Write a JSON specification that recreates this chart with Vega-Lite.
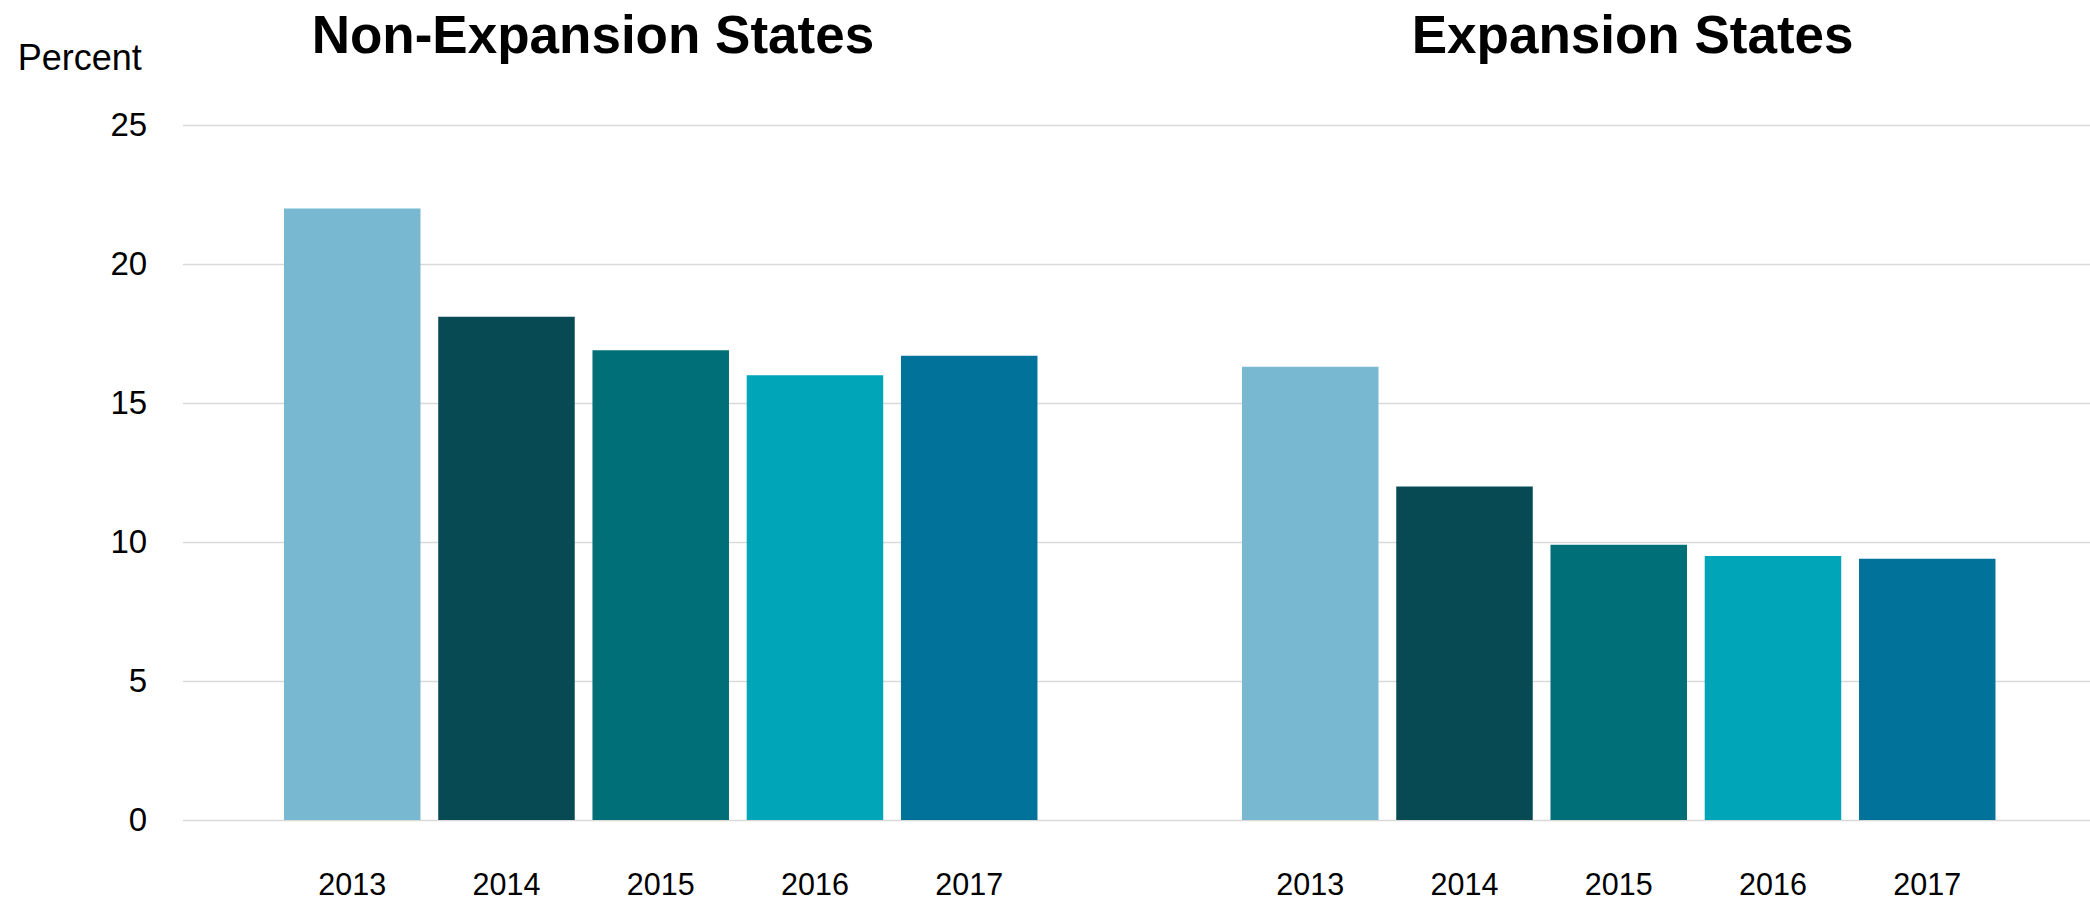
{
  "$schema": "https://vega.github.io/schema/vega-lite/v6.json",
  "autosize": {"type": "none"},
  "padding": {"left": 182.4, "top": 125, "right": 0, "bottom": 82},
  "width": 1907.6,
  "height": 695,
  "background": "white",
  "config": {
    "view": {"stroke": null},
    "font": "Liberation Sans",
    "axis": {"labelFont": "Liberation Sans", "titleFont": "Liberation Sans", "labelColor": "#000000", "titleColor": "#000000"}
  },
  "data": {
    "values": [
      {"group": "Non-Expansion States", "year": "2013", "value": 22.0},
      {"group": "Non-Expansion States", "year": "2014", "value": 18.1},
      {"group": "Non-Expansion States", "year": "2015", "value": 16.9},
      {"group": "Non-Expansion States", "year": "2016", "value": 16.0},
      {"group": "Non-Expansion States", "year": "2017", "value": 16.7},
      {"group": "Expansion States", "year": "2013", "value": 16.3},
      {"group": "Expansion States", "year": "2014", "value": 12.0},
      {"group": "Expansion States", "year": "2015", "value": 9.9},
      {"group": "Expansion States", "year": "2016", "value": 9.5},
      {"group": "Expansion States", "year": "2017", "value": 9.4}
    ]
  },
  "encoding": {
    "x": {
      "field": "group",
      "type": "nominal",
      "scale": {"domain": ["Non-Expansion States", "Expansion States"], "paddingInner": 0.0088, "paddingOuter": 0},
      "axis": {
        "orient": "top",
        "title": null,
        "domain": false,
        "ticks": false,
        "tickSize": 0,
        "grid": false,
        "labelAngle": 0,
        "labelFontSize": 53,
        "labelFontWeight": "bold",
        "labelBaseline": "alphabetic",
        "labelAlign": "left",
        "labelPadding": 72.7,
        "labelLimit": 2000,
        "labelOverlap": false,
        "labelBound": false,
        "labelFlush": false,
        "labelOffset": {"condition": {"test": "datum.value == 'Non-Expansion States'", "value": -345.5}, "value": -203.5}
      }
    },
    "xOffset": {
      "field": "year",
      "type": "nominal",
      "scale": {"paddingInner": 0.115, "paddingOuter": 0.6357, "align": 0.518}
    }
  },
  "layer": [
    {
      "mark": {"type": "bar"},
      "encoding": {
        "y": {
          "field": "value",
          "type": "quantitative",
          "scale": {"domain": [0, 25], "nice": false, "zero": true},
          "axis": {
            "title": "Percent",
            "values": [0, 5, 10, 15, 20, 25],
            "grid": true,
            "gridColor": "#d9d9d9",
            "gridWidth": 1.6,
            "domain": false,
            "ticks": false,
            "tickSize": 0,
            "labelFontSize": 33,
            "labelPadding": 35.7,
            "labelBaseline": "middle",
            "titleFontSize": 36,
            "titleFontWeight": "normal",
            "titleAngle": 0,
            "titleAlign": "left",
            "titleBaseline": "alphabetic",
            "titleX": -165.1,
            "titleY": -55.7
          }
        },
        "color": {
          "field": "year",
          "type": "nominal",
          "scale": {"domain": ["2013", "2014", "2015", "2016", "2017"], "range": ["#78B8D0", "#074A53", "#016F77", "#00A5B8", "#017299"]},
          "legend": null
        }
      }
    },
    {
      "mark": {"type": "text", "dy": 66, "baseline": "middle", "align": "center", "fontSize": 30.5, "font": "Liberation Sans", "color": "#000000"},
      "encoding": {
        "y": {"datum": 0, "type": "quantitative"},
        "text": {"field": "year", "type": "nominal"}
      }
    }
  ]
}
